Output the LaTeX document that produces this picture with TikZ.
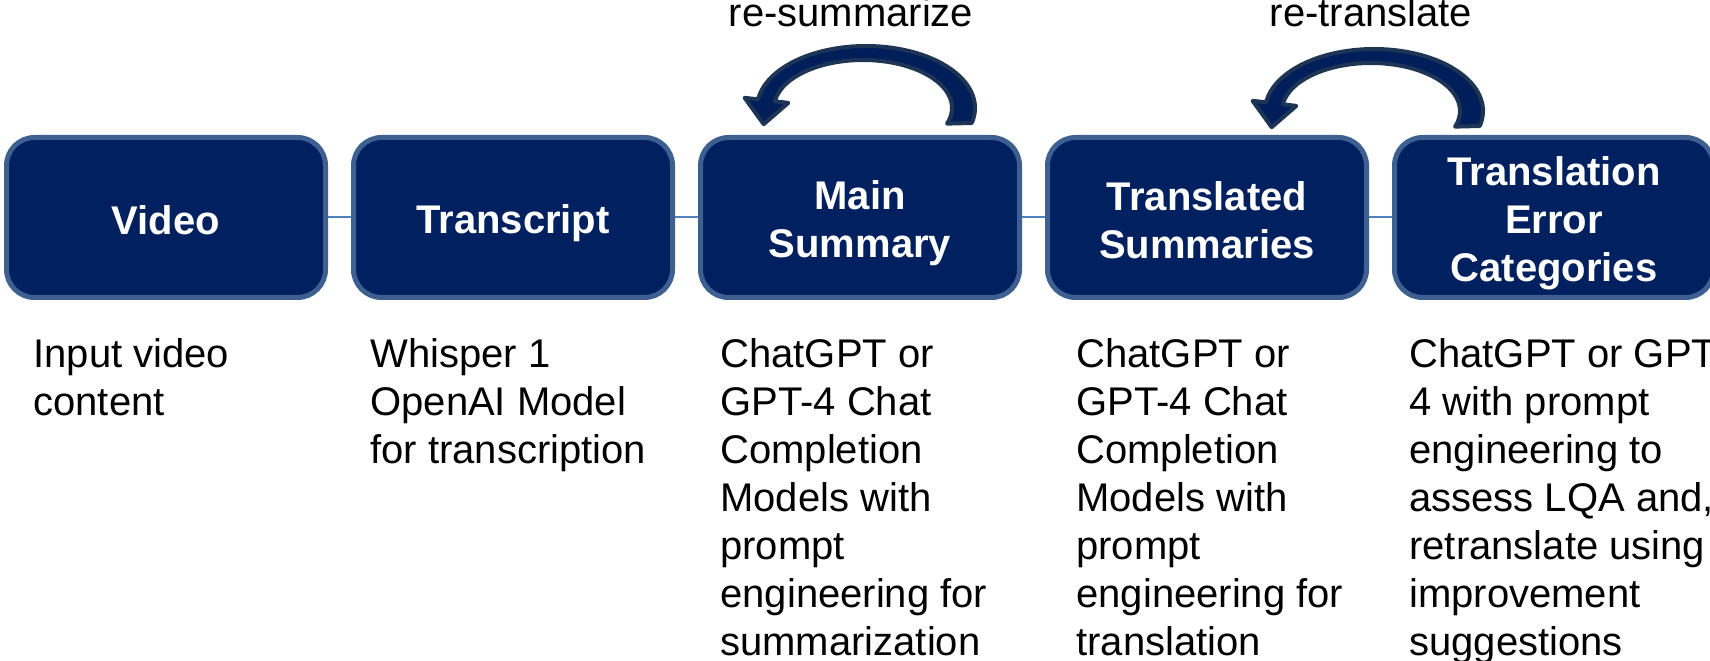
\documentclass[tikz,border=0pt]{standalone}
\usepackage{fontspec}
\setmainfont{Liberation Sans}
\usetikzlibrary{positioning,calc,backgrounds}

% one line of a stage label, as tall as the line pitch
\newcommand\stagestrut{\rule[-3.5pt]{0pt}{24pt}}

\begin{document}
\begin{tikzpicture}
          [x = 0.5pt, y = 0.5pt, node distance = 14pt,
           stagebox/.style  = {draw = stageedge, fill = stagefill, line width = 2.5pt,
                               rounded corners = 14pt, minimum width = 159.5pt, minimum height = 80pt,
                               outer sep = 0pt, inner sep = 2pt, text = white, align = center,
                               font = \fontsize{20}{24}\selectfont\bfseries},
           stagenote/.style = {anchor = north west, inner sep = 0pt, align = left,
                               font = \fontsize{20}{24}\selectfont},
           stagelink/.style = {draw = linkcolor, line width = 1pt},
           redoarrow/.style = {fill = redofill, draw = redoedge, line width = 2pt, line join = round},
           redolabel/.style = {anchor = base, font = \fontsize{20}{24}\selectfont}]

% Define colors
\definecolor{stagefill}{RGB}{0,32,96}
\definecolor{stageedge}{RGB}{62,96,145}
\definecolor{linkcolor}{RGB}{79,129,189}
\definecolor{redofill}{RGB}{0,30,90}
\definecolor{redoedge}{RGB}{30,52,85}

\useasboundingbox (0,0) rectangle (1710,660);
\clip (0,0) rectangle (1710,660);

% Stages
\node [stagebox] (video) at (166,442.5) {\stagestrut Video};
\node [stagebox, right = of video]      (transcript) {\stagestrut Transcript};
\node [stagebox, right = of transcript] (summary)    {\stagestrut Main\\\stagestrut Summary};
\node [stagebox, right = of summary]    (translated) {\stagestrut Translated\\\stagestrut Summaries};
\node [stagebox, right = of translated] (errors)     {\stagestrut Translation\\\stagestrut Error\\\stagestrut Categories};

% thin links between the stages
\begin{scope}[on background layer]
   \draw [stagelink] (video.east)      -- (transcript.west);
   \draw [stagelink] (transcript.east) -- (summary.west);
   \draw [stagelink] (summary.east)    -- (translated.west);
   \draw [stagelink] (translated.east) -- (errors.west);
\end{scope}

% Notes under the stages
\node [stagenote] (videonote)      at (33,322)   {Input video\\content};
\node [stagenote] (transcriptnote) at (370,322)  {Whisper 1\\OpenAI Model\\for transcription};
\node [stagenote] (summarynote)    at (720,322)  {ChatGPT or\\GPT-4 Chat\\Completion\\Models with\\prompt\\engineering for\\summarization};
\node [stagenote] (translatednote) at (1076,322) {ChatGPT or\\GPT-4 Chat\\Completion\\Models with\\prompt\\engineering for\\translation};
\node [stagenote] (errorsnote)     at (1409,322) {ChatGPT or GPT\\4 with prompt\\engineering to\\assess LQA and,\\retranslate using\\improvement\\suggestions};

% re-summarize arrow
\coordinate (sumc)  at (866,552);
\coordinate (sumci) at (863,552);
\coordinate (sumo)  at ($(sumc)+(172:109 and 62)$);
\coordinate (sumi)  at ($(sumci)+(172:89 and 48)$);
\path [redoarrow] ($(sumc)+(-14:109 and 62)$) arc [start angle = -14, end angle = 172, x radius = 109, y radius = 62]
      -- ($(sumo)!-0.8!(sumi)$) -- ($(sumo)!0.5!(sumi)!12pt!-90:(sumi)$) -- ($(sumi)!-0.8!(sumo)$)
      -- (sumi) arc [start angle = 172, end angle = -19, x radius = 89, y radius = 48] -- cycle;
\node [redolabel] (sumlabel) at (851,633) {re-summarize};

% re-translate arrow
\coordinate (trc)  at (1374,549);
\coordinate (trci) at (1371,549);
\coordinate (tro)  at ($(trc)+(172:109 and 62)$);
\coordinate (tri)  at ($(trci)+(172:89 and 48)$);
\path [redoarrow] ($(trc)+(-14:109 and 62)$) arc [start angle = -14, end angle = 172, x radius = 109, y radius = 62]
      -- ($(tro)!-0.8!(tri)$) -- ($(tro)!0.5!(tri)!12pt!-90:(tri)$) -- ($(tri)!-0.8!(tro)$)
      -- (tri) arc [start angle = 172, end angle = -19, x radius = 89, y radius = 48] -- cycle;
\node [redolabel] (trlabel) at (1371,633) {re-translate};

\end{tikzpicture}
\end{document}
